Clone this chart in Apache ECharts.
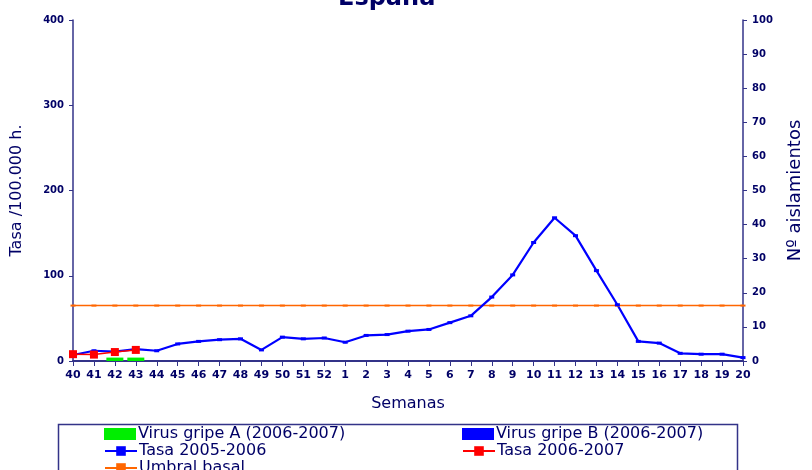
<!DOCTYPE html>
<html><head><meta charset="utf-8">
<script src="https://cdn.jsdelivr.net/npm/echarts@6/dist/echarts.min.js"></script>
<style>html,body{margin:0;padding:0;background:#fff}#c{width:812px;height:470px}</style>
</head><body><div id="c"></div>
<script>
const semanas = ['40','41','42','43','44','45','46','47','48','49','50','51','52','1','2','3','4','5','6','7','8','9','10','11','12','13','14','15','16','17','18','19','20'];
const tasa0506 = [7,12,11,14,12,20,23,25,26,13,28,26,27,22,30,31,35,37,45,53,75,101,139,168,147,106,66,23,21,9,8,8,4];
const tasa0607 = [8,7.5,10.5,13];
const umbral = [65,65,65,65,65,65,65,65,65,65,65,65,65,65,65,65,65,65,65,65,65,65,65,65,65,65,65,65,65,65,65,65,65];
const virusA = [null,null,1,1];
const virusB = [];

const navy = '#000066';
const axisCol = '#333388';
const font = 'DejaVu Sans';
const legendText = { color: navy, fontFamily: font, fontSize: 16, padding: [0,0,0,-3] };
function leg(name, left, top, icon) {
  const d = icon ? { name: name, icon: icon } : name;
  return { left: left, top: top, itemWidth: 32, itemHeight: 12, padding: 0, data: [d], textStyle: legendText };
}
const chart = echarts.init(document.getElementById('c'));
chart.setOption({
  backgroundColor: '#fff',
  animation: false,
  title: { text: 'España', left: 333, top: -18, textStyle: { color: navy, fontFamily: font, fontWeight: 'bold', fontSize: 24 } },
  grid: { left: 73, right: 57, top: 20, bottom: 109 },
  xAxis: {
    type: 'category', data: semanas, boundaryGap: false,
    name: 'Semanas', nameLocation: 'middle', nameGap: 35,
    nameTextStyle: { color: navy, fontFamily: font, fontSize: 16 },
    axisLine: { lineStyle: { color: axisCol, width: 2 } },
    axisTick: { show: true, length: 5, lineStyle: { color: axisCol } },
    axisLabel: { color: navy, fontFamily: font, fontWeight: 'bold', fontSize: 11, interval: 0, margin: 9 },
    splitLine: { show: false }
  },
  yAxis: [{
    type: 'value', min: 0, max: 400, interval: 100,
    name: 'Tasa /100.000 h.', nameLocation: 'middle', nameGap: 48,
    nameTextStyle: { color: navy, fontFamily: font, fontSize: 16 },
    axisLine: { show: true, lineStyle: { color: axisCol, width: 1.5 } },
    axisTick: { show: true, length: 4, lineStyle: { color: axisCol } },
    axisLabel: { color: navy, fontFamily: font, fontWeight: 'bold', fontSize: 10, margin: 9 },
    splitLine: { show: false }
  }, {
    type: 'value', min: 0, max: 100, interval: 10, position: 'right',
    name: 'Nº aislamientos', nameLocation: 'middle', nameGap: 43,
    nameTextStyle: { color: navy, fontFamily: font, fontSize: 18 },
    axisLine: { show: true, lineStyle: { color: axisCol, width: 1.5 } },
    axisTick: { show: true, length: 4, lineStyle: { color: axisCol } },
    axisLabel: { color: navy, fontFamily: font, fontWeight: 'bold', fontSize: 10, margin: 9 },
    splitLine: { show: false }
  }],
  graphic: [{ type: 'rect', left: 56, top: 422, shape: { width: 679, height: 60 }, style: { fill: 'none', stroke: axisCol, lineWidth: 1.5 } }],
  legend: [
    leg('Virus gripe A (2006-2007)', 104, 426, 'rect'),
    leg('Tasa 2005-2006', 104, 443),
    leg('Umbral basal', 104, 460),
    leg('Virus gripe B (2006-2007)', 462, 426, 'rect'),
    leg('Tasa 2006-2007', 462, 443)
  ],
  series: [
    { name: 'Virus gripe A (2006-2007)', type: 'bar', yAxisIndex: 1, data: virusA, barWidth: 17, itemStyle: { color: '#00ee00' }, barGap: '-100%' },
    { name: 'Virus gripe B (2006-2007)', type: 'bar', yAxisIndex: 1, data: virusB, barWidth: 17, itemStyle: { color: '#0000ff' } },
    { name: 'Umbral basal', type: 'line', data: umbral, symbol: 'rect', symbolSize: [5, 2], lineStyle: { color: '#ff6600', width: 1.5 }, itemStyle: { color: '#ff6600' } },
    { name: 'Tasa 2005-2006', type: 'line', data: tasa0506, symbol: 'rect', symbolSize: [5, 3], lineStyle: { color: '#0000ff', width: 2.2 }, itemStyle: { color: '#0000ff' } },
    { name: 'Tasa 2006-2007', type: 'line', data: tasa0607, symbol: 'rect', symbolSize: 8, lineStyle: { color: '#ff0000', width: 1.5 }, itemStyle: { color: '#ff0000' } }
  ]
});
</script></body></html>
